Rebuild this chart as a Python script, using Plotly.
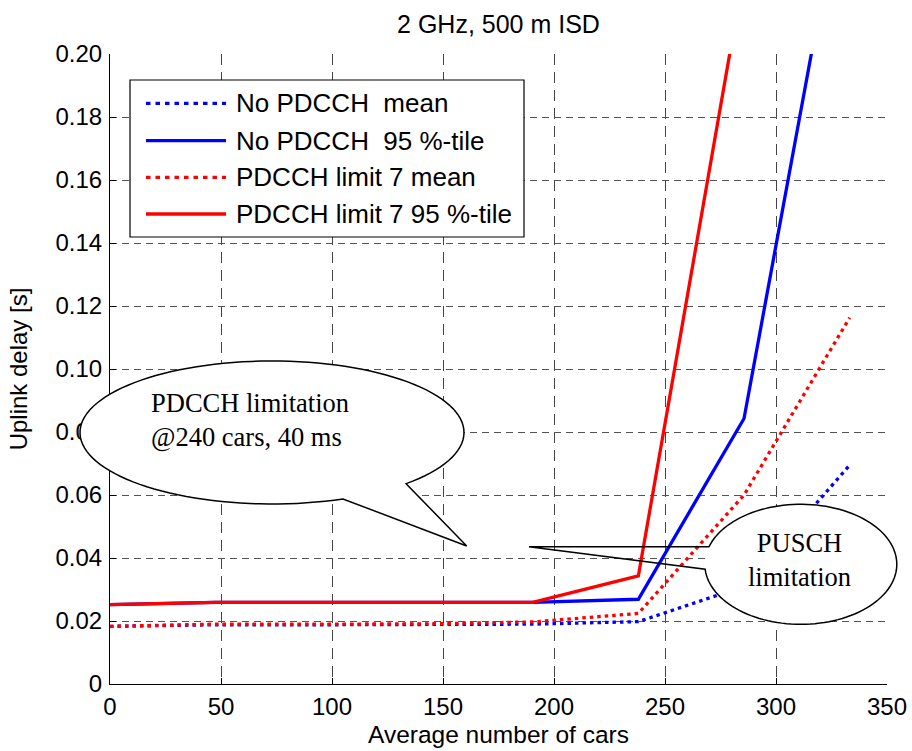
import numpy as np
import plotly.graph_objects as go

# ---------------- data ----------------
cars = [0, 47.6, 95.2, 142.8, 190.4, 238.0, 285.6, 333.2]
no_pdcch_mean = [0.0183, 0.0188, 0.0188, 0.0188, 0.0190, 0.0198, 0.0310, 0.0695]
no_pdcch_95 = [0.0252, 0.0259, 0.0259, 0.0259, 0.0259, 0.0269, 0.0843, 0.2660]
pdcch7_mean = [0.0183, 0.0190, 0.0190, 0.0191, 0.0197, 0.0224, 0.0600, 0.1163]
pdcch7_95 = [0.0252, 0.0259, 0.0259, 0.0259, 0.0259, 0.0343, 0.2260, None]

series_names = ["No PDCCH  mean", "No PDCCH  95 %-tile",
                "PDCCH limit 7 mean", "PDCCH limit 7 95 %-tile"]
series_values = [no_pdcch_mean, no_pdcch_95, pdcch7_mean, pdcch7_95]
series_colors = ["#0000FF", "#0000FF", "#FF0000", "#FF0000"]
series_dash = ["3.5px,4px", "solid", "3.5px,4px", "solid"]
legend_dash = ["4.5px,5px", "solid", "4.5px,5px", "solid"]

x_ticks = [0, 50, 100, 150, 200, 250, 300, 350]
y_ticks = [0, 0.02, 0.04, 0.06, 0.08, 0.10, 0.12, 0.14, 0.16, 0.18, 0.20]
y_ticklabels = ["0", "0.02", "0.04", "0.06", "0.08", "0.10", "0.12",
                "0.14", "0.16", "0.18", "0.20"]

# ---------------- layout geometry (pixels) ----------------
W, H = 912, 751
L, R, T, B = 110, 887, 54, 684


def px(xp, yp):
    """pixel -> paper coordinates"""
    return (xp - L) / (R - L), (B - yp) / (B - T)


fig = go.Figure()
for name, vals, col, dash in zip(series_names, series_values, series_colors, series_dash):
    fig.add_trace(go.Scatter(x=cars, y=vals, mode="lines", name=name,
                             line=dict(color=col, width=3.3, dash=dash),
                             showlegend=False, connectgaps=False))

shapes = []
annotations = []

# ---- custom MATLAB-like legend box ----
lx0, ly0 = px(130, 80)
lx1, ly1 = px(524, 237)
shapes.append(dict(type="rect", xref="paper", yref="paper", x0=lx0, x1=lx1, y0=ly1, y1=ly0,
                   fillcolor="white", line=dict(color="black", width=1.2), layer="above"))
row_y = [103.3, 140.7, 177.3, 214]
for i, (name, col, dash) in enumerate(zip(series_names, series_colors, legend_dash)):
    sx0, sy = px(146, row_y[i])
    sx1, _ = px(226, row_y[i])
    shapes.append(dict(type="line", xref="paper", yref="paper", x0=sx0, x1=sx1, y0=sy, y1=sy,
                       line=dict(color=col, width=3.3, dash=dash), layer="above"))
    tx, _ = px(234, row_y[i])
    annotations.append(dict(xref="paper", yref="paper", x=tx, y=sy, text=name,
                            showarrow=False, xanchor="left", yanchor="middle",
                            font=dict(family="Liberation Sans, Arial", size=26, color="black")))


def ellipse_pts(cx, cy, rx, ry, a0, a1, n=120):
    t = np.radians(np.linspace(a0, a1, n))
    return [(cx + rx * np.cos(a), cy + ry * np.sin(a)) for a in t]


def to_path(points, close=True):
    parts = []
    for k, (xp, yp) in enumerate(points):
        a, b = px(xp, yp)
        parts.append(("M" if k == 0 else "L") + f"{a:.5f},{b:.5f}")
    return " ".join(parts) + (" Z" if close else "")


# ---- PDCCH bubble (filled, with tail) ----
cx, cy, rx, ry = 272, 432.5, 192, 71.5
arc = ellipse_pts(cx, cy, rx, ry, 68.3, 405.7)
tip = (466.7, 546)
pts = arc + [tip]
shapes.append(dict(type="path", xref="paper", yref="paper", path=to_path(pts, True),
                   fillcolor="white", line=dict(color="black", width=1.5), layer="above"))
tx, ty = px(149, 420)
annotations.append(dict(xref="paper", yref="paper", x=tx, y=ty,
                        text="PDCCH limitation<br>@240 cars, 40 ms",
                        showarrow=False, xanchor="left", yanchor="middle", align="left",
                        font=dict(family="Liberation Serif, Times New Roman, serif",
                                  size=26.5, color="black")))

# ---- PUSCH bubble (filled ellipse, open tail) ----
cx2, cy2, rx2, ry2 = 800.8, 564.3, 96, 60
e0 = px(cx2 - rx2, cy2 + ry2)
e1 = px(cx2 + rx2, cy2 - ry2)
shapes.append(dict(type="circle", xref="paper", yref="paper", x0=e0[0], y0=e0[1],
                   x1=e1[0], y1=e1[1], fillcolor="white", line=dict(width=0), layer="above"))
arc2 = ellipse_pts(cx2, cy2, rx2, ry2, 196.9, 535.3)
tip2 = (529, 546.7)
pts2 = arc2 + [tip2, arc2[0]]
shapes.append(dict(type="path", xref="paper", yref="paper", path=to_path(pts2, False),
                   fillcolor="rgba(0,0,0,0)", line=dict(color="black", width=1.5), layer="above"))
tx2, ty2 = px(799, 560)
annotations.append(dict(xref="paper", yref="paper", x=tx2, y=ty2,
                        text="PUSCH<br>limitation",
                        showarrow=False, xanchor="center", yanchor="middle", align="center",
                        font=dict(family="Liberation Serif, Times New Roman, serif",
                                  size=26.5, color="black")))

fig.update_layout(
    width=W, height=H,
    margin=dict(l=L, r=W - R, t=T, b=H - B, pad=0, autoexpand=False),
    paper_bgcolor="white", plot_bgcolor="white",
    font=dict(family="Liberation Sans, Arial", color="black"),
    title=dict(text="2 GHz, 500 m ISD", x=(L + R) / 2 / W, xanchor="center",
               y=1 - 24 / H, yanchor="middle", font=dict(size=25)),
    shapes=shapes, annotations=annotations,
    showlegend=False,
)
fig.update_xaxes(range=[0, 350], tickvals=x_ticks, showline=True, linecolor="black",
                 linewidth=1.2, ticks="inside", ticklen=6, tickcolor="black",
                 showgrid=True, gridcolor="#444", gridwidth=1.2, griddash="11px,7px",
                 zeroline=False, tickfont=dict(size=24), ticklabelstandoff=1,
                 automargin=False,
                 title=dict(text="Average number of cars", font=dict(size=24.5), standoff=6))
fig.update_yaxes(range=[0, 0.2], tickvals=y_ticks, ticktext=y_ticklabels, showline=True,
                 linecolor="black", linewidth=1.2, ticks="inside", ticklen=6, tickcolor="black",
                 showgrid=True, gridcolor="#555", gridwidth=1.2, griddash="7px,5px",
                 zeroline=False, tickfont=dict(size=24), ticklabelstandoff=2,
                 automargin=False,
                 title=dict(text="Uplink delay [s]", font=dict(size=24), standoff=20))

fig.write_html("out.html")
